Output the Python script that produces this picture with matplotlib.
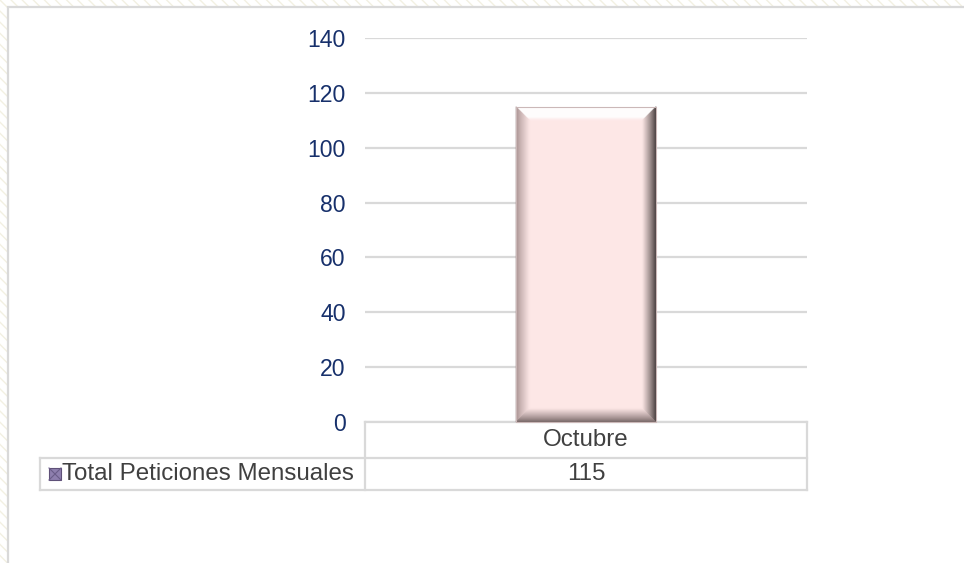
import matplotlib
matplotlib.use("Agg")
import matplotlib.pyplot as plt
from matplotlib.patches import Rectangle, Polygon
from matplotlib.lines import Line2D
from matplotlib.transforms import IdentityTransform
import numpy as np

categories = ["Octubre"]
values = [115]
series_name = "Total Peticiones Mensuales"
yticks = [0, 20, 40, 60, 80, 100, 120, 140]

W, H = 964, 563
plt.rcParams['font.family'] = ['Liberation Sans', 'DejaVu Sans']
fig = plt.figure(figsize=(W / 100, H / 100), dpi=100)
fig.patch.set_facecolor('white')


def fx(px):
    return px / W


def fy(py):
    return 1 - py / H


# background hatch and frame
bg = Rectangle((0, 0), 1, 1, transform=fig.transFigure, facecolor='white',
               edgecolor='#F2F0E2', hatch='\\\\\\', linewidth=0, zorder=-10)
fig.add_artist(bg)
frame = Rectangle((fx(8), -0.05), 1.1, fy(7) + 0.05, transform=fig.transFigure,
                  facecolor='white', edgecolor='#D9D9D9', linewidth=1.6, zorder=-9)
fig.add_artist(frame)

ax_l, ax_r, ax_t, ax_b = 365, 807, 38, 422
ax = fig.add_axes([fx(ax_l), fy(ax_b), fx(ax_r) - fx(ax_l), fy(ax_t) - fy(ax_b)])
ax.set_facecolor('none')
ax.set_ylim(0, 140)
ax.set_xlim(-0.5, len(categories) - 0.5)
ax.set_yticks(yticks)
ax.set_yticklabels([str(t) for t in yticks], fontsize=16.6, color='#17306B')
ax.tick_params(axis='y', length=0, pad=14)
ax.set_xticks([])
for s in ax.spines.values():
    s.set_visible(False)
ax.yaxis.grid(True, color='#D9D9D9', linewidth=1.6)
ax.set_axisbelow(True)

face = '#FDE7E6'
bars = ax.bar(range(len(categories)), values, width=0.317, color=face,
              edgecolor='none', zorder=2)

fig.canvas.draw()


def mix(c1, c2, t):
    a = np.array(matplotlib.colors.to_rgb(c1))
    b = np.array(matplotlib.colors.to_rgb(c2))
    return tuple(a + (b - a) * t)


for b in bars:
    bb = b.get_window_extent()
    x0, x1, y0, y1 = bb.x0, bb.x1, bb.y0, bb.y1
    d = 14.0
    n = 14
    sides = {
        'top': ('#FFFFFF', face),
        'left': ('#A08A8A', face),
        'right': ('#383030', face),
        'bottom': ('#6E5E5E', face),
    }
    for k in range(n):
        t0 = k / n
        t1 = (k + 1) / n
        tm = (t0 + t1) / 2
        for side, (outc, inc) in sides.items():
            if side == 'top':
                pts = [(x0 + d * t0, y1 - d * t0), (x1 - d * t0, y1 - d * t0),
                       (x1 - d * t1, y1 - d * t1), (x0 + d * t1, y1 - d * t1)]
                col = mix(outc, inc, 0.0 if tm < 0.75 else (tm - 0.75) * 4)
            elif side == 'bottom':
                pts = [(x0 + d * t0, y0 + d * t0), (x1 - d * t0, y0 + d * t0),
                       (x1 - d * t1, y0 + d * t1), (x0 + d * t1, y0 + d * t1)]
                col = mix(outc, inc, tm ** 0.8)
            elif side == 'left':
                pts = [(x0 + d * t0, y0 + d * t0), (x0 + d * t0, y1 - d * t0),
                       (x0 + d * t1, y1 - d * t1), (x0 + d * t1, y0 + d * t1)]
                col = mix(outc, inc, tm ** 0.8)
            else:
                pts = [(x1 - d * t0, y0 + d * t0), (x1 - d * t0, y1 - d * t0),
                       (x1 - d * t1, y1 - d * t1), (x1 - d * t1, y0 + d * t1)]
                col = mix(outc, inc, tm ** 0.8)
            p = Polygon(pts, closed=True, facecolor=col, edgecolor=col,
                        linewidth=0.3, transform=IdentityTransform(), zorder=3)
            fig.add_artist(p)
    edge = Rectangle((x0, y0), x1 - x0, y1 - y0, fill=False, edgecolor='#CBB8B8',
                     linewidth=0.8, transform=IdentityTransform(), zorder=4)
    fig.add_artist(edge)

# data table
lc = '#D9D9D9'
lw = 1.6
row1_t, row1_b, row2_b = 422, 458, 490
tab_l = 40


def hline(x_a, x_b, y):
    fig.add_artist(Line2D([fx(x_a), fx(x_b)], [fy(y), fy(y)], color=lc, lw=lw,
                          transform=fig.transFigure))


def vline(x, y_a, y_b):
    fig.add_artist(Line2D([fx(x), fx(x)], [fy(y_a), fy(y_b)], color=lc, lw=lw,
                          transform=fig.transFigure))


hline(ax_l, ax_r, row1_t)
hline(tab_l, ax_r, row1_b)
hline(tab_l, ax_r, row2_b)
vline(ax_l, row1_t, row2_b)
vline(ax_r, row1_t, row2_b)
vline(tab_l, row1_b, row2_b)

ncat = len(categories)
cw = (ax_r - ax_l) / ncat
for i, (c, v) in enumerate(zip(categories, values)):
    cx = ax_l + cw * (i + 0.5)
    fig.text(fx(cx), fy((row1_t + row1_b) / 2), c, ha='center', va='center',
             fontsize=17.4, color='#404040')
    fig.text(fx(cx), fy((row1_b + row2_b) / 2), str(v), ha='center', va='center',
             fontsize=17.4, color='#404040')

# legend key
ky = (row1_b + row2_b) / 2
ks = 12
kx = 49
fig.add_artist(Rectangle((fx(kx), fy(ky + ks / 2)), ks / W, ks / H,
                         transform=fig.transFigure, facecolor='#8E7FAE',
                         edgecolor='#5E5078', linewidth=0.8))
fig.add_artist(Line2D([fx(kx), fx(kx + ks)], [fy(ky - ks / 2), fy(ky + ks / 2)],
                      color='#6A5C88', lw=0.8, transform=fig.transFigure))
fig.add_artist(Line2D([fx(kx), fx(kx + ks)], [fy(ky + ks / 2), fy(ky - ks / 2)],
                      color='#6A5C88', lw=0.8, transform=fig.transFigure))
fig.text(fx(kx + ks + 1), fy(ky), series_name, ha='left', va='center',
         fontsize=17.4, color='#404040')

fig.savefig('out.png', dpi=100, facecolor=fig.get_facecolor())
